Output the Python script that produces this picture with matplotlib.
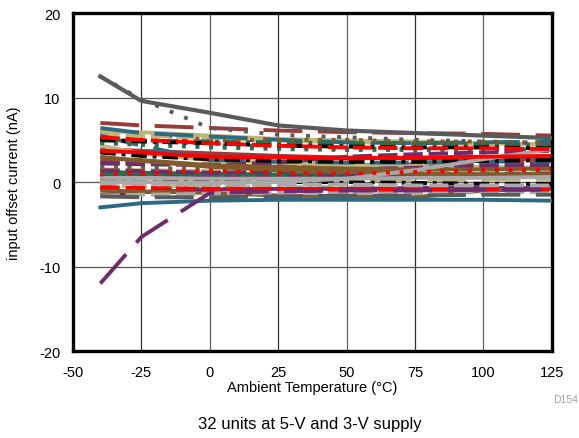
import matplotlib
matplotlib.use("Agg")
import matplotlib.pyplot as plt

plt.rcParams['font.family'] = ['Liberation Sans', 'DejaVu Sans']
plt.rcParams['axes.unicode_minus'] = False

temps = [-40, -25, 0, 25, 50, 75, 100, 125]

# the odd units that stand out from the band
top_solid = [12.5, 9.6, 8.2, 6.7, 6.1, 5.8, 5.5, 5.2]
top_dotted = [12.5, 9.8, 6.4, 5.6, 5.3, 5.0, 4.8, 4.6]
low_dashed = [-12.0, -6.5, -1.3, -1.1, -1.0, -1.0, -0.9, -0.9]
low_solid = [-3.0, -2.5, -2.2, -2.1, -2.1, -2.1, -2.1, -2.2]

# the rest, grouped by colour
maroon_units = [[7.0, 6.7, 6.4, 6.1, 5.9, 5.8, 5.7, 5.5],
                [3.9, 3.7, 3.4, 3.1, 2.9, 2.8, 2.7, 2.7],
                [5.8, 5.6, 5.3, 5.0, 4.9, 4.8, 4.7, 4.6],
                [2.4, 2.3, 2.1, 2.0, 2.0, 2.1, 2.2, 2.3]]
red_units = [[5.3, 5.0, 4.6, 4.3, 4.1, 4.0, 4.0, 3.9],
             [3.7, 3.5, 3.0, 2.9, 2.8, 2.9, 3.0, 3.1],
             [-0.6, -0.7, -0.8, -0.8, -0.9, -0.9, -0.9, -0.9],
             [0.9, 1.0, 1.3, 1.1, 1.0, 1.2, 1.4, 1.5]]
khaki_units = [[6.0, 5.9, 5.5, 5.1, 4.9, 4.8, 4.6, 4.4],
               [4.3, 3.4, 2.6, 2.3, 2.0, 1.9, 1.8, 1.7],
               [5.6, 5.5, 5.2, 4.9, 4.7, 4.6, 4.5, 4.5],
               [1.5, 1.4, 1.3, 1.2, 1.2, 1.2, 1.3, 1.3],
               [-0.4, -0.5, -0.5, -0.6, -0.6, -0.6, -0.6, -0.6],
               [0.3, 0.3, 0.2, 0.2, 0.2, 0.2, 0.3, 0.3]]
teal_units = [[6.4, 5.8, 5.4, 5.0, 4.7, 4.6, 4.7, 4.8],
              [5.5, 4.3, 2.6, 2.4, 2.3, 2.3, 2.4, 2.5],
              [-0.8, -0.8, -0.8, -0.8, -0.8, -0.8, -0.8, -0.8],
              [4.8, 4.6, 4.4, 4.2, 4.0, 3.9, 3.9, 3.8],
              [1.8, 1.7, 1.5, 1.4, 1.3, 1.4, 1.5, 1.6]]
green_units = [[4.9, 4.9, 4.8, 4.7, 4.6, 4.6, 4.5, 4.4],
               [1.2, 1.1, 1.0, 0.9, 0.9, 0.9, 0.9, 0.9],
               [0.9, 0.9, 0.8, 0.8, 0.8, 0.8, 0.7, 0.7],
               [4.6, 4.4, 4.1, 3.9, 3.8, 3.8, 3.8, 3.9]]
purple_units = [[2.2, 2.1, 2.0, 2.3, 3.0, 3.3, 3.5, 3.7],
                [1.4, 1.3, 1.1, 1.2, 1.5, 1.7, 1.9, 2.0],
                [-1.5, -1.2, -0.9, -0.8, -0.8, -0.7, -0.7, -0.7],
                [0.6, 0.6, 0.5, 0.6, 0.7, 0.8, 0.9, 1.0]]
brown_units = [[3.0, 2.5, 1.8, 1.4, 1.2, 1.0, 0.9, 0.9],
               [2.8, 2.6, 2.0, 1.8, 1.6, 1.5, 1.5, 1.6],
               [-1.0, -1.1, -1.3, -1.6, -1.7, -1.8, -1.0, -0.8],
               [5.0, 4.9, 4.9, 5.0, 5.0, 4.8, 4.8, 4.6],
               [1.7, 1.6, 1.4, 1.3, 1.2, 1.2, 1.3, 1.3]]
black_units = [[3.5, 3.1, 2.7, 2.5, 2.4, 2.4, 2.5, 2.6],
               [0.1, 0.0, 0.0, 0.0, 0.0, -0.1, -0.2, -0.2],
               [5.0, 4.8, 4.6, 4.3, 4.2, 4.1, 4.1, 4.0]]
lgray_units = [[0.0, 0.0, -0.1, 0.0, 0.4, 1.4, 2.7, 3.9],
               [-1.6, -1.5, -1.4, -1.3, -1.3, -1.3, -1.2, -1.2],
               [0.0, -0.2, -0.3, -0.3, -0.3, -0.4, -0.4, -0.4],
               [0.5, 0.5, 0.4, 0.4, 0.4, 0.5, 0.5, 0.6]]
dgray_units = [[-1.7, -1.8, -1.8, -1.7, -1.6, -1.6, -1.5, -1.5]]

solid = '-'
longdash = (0, (10, 4))
dash = (0, (5, 1.5))
dots = (0, (1, 2.5))
dashdot = (0, (4, 1.5, 1, 1.5))

groups = [
    (maroon_units, '#9a3b39', [longdash, solid, dots, dash]),
    (khaki_units, '#bdb57a', [solid, solid, dash, dash, dashdot, longdash]),
    (teal_units, '#2c6a82', [longdash, longdash, dots, dots, dots]),
    (green_units, '#2a6e4e', [dashdot, solid, solid, dots]),
    (purple_units, '#6e2c6c', [dash, dash, solid, dashdot]),
    (brown_units, '#835a2c', [solid, solid, solid, dots, dots]),
    (black_units, '#000000', [dashdot, dashdot, dashdot]),
    (lgray_units, '#a9a9a9', [solid, dash, dash, solid]),
    (dgray_units, '#5a5a5a', [longdash]),
    (red_units, '#ff0000', [dash, solid, dash, dots]),
]

fig = plt.figure(figsize=(5.79, 4.39), dpi=100)
ax = fig.add_axes([0.126, 0.198, 0.827, 0.770])

for gx in [-25, 0, 25, 50, 75, 100]:
    ax.axvline(gx, color='#303030' if gx % 50 else '#606060', lw=0.9, zorder=1)
for gy in [-10, 0, 10]:
    ax.axhline(gy, color='#555555', lw=0.9, zorder=1)

for units, color, styles in groups:
    for vals, ls in zip(units, styles):
        ax.plot(temps, vals, color=color, linestyle=ls, lw=2.8,
                solid_capstyle='butt', dash_capstyle='butt', zorder=2)

ax.plot(temps, low_solid, color='#2c6a82', lw=2.8, zorder=3)
ax.plot(temps, low_dashed, color='#6e2c6c', lw=2.8, linestyle=longdash,
        dash_capstyle='butt', zorder=3)
ax.plot(temps, top_dotted, color='#5a5a5a', lw=2.8, linestyle=(0, (1, 3)),
        dash_capstyle='butt', zorder=3)
ax.plot(temps, top_solid, color='#5a5a5a', lw=3.0, zorder=3)

ax.set_xlim(-50, 125)
ax.set_ylim(-20, 20)
ax.set_xticks([-50, -25, 0, 25, 50, 75, 100, 125])
ax.set_yticks([-20, -10, 0, 10, 20])
ax.tick_params(length=0, labelsize=10.5)
ax.tick_params(axis='x', pad=10)
ax.tick_params(axis='y', pad=9)
for s in ax.spines.values():
    s.set_linewidth(2.4)
ax.set_xlabel('Ambient Temperature (\u00b0C)', fontsize=10.5, labelpad=1)
ax.set_ylabel('input offset current (nA)', fontsize=10.5, labelpad=13)

fig.text(0.976, 0.088, 'D154', color='#a0a0a0', fontsize=7.5, ha='center', va='center')
fig.text(0.535, 0.034, '32 units at 5-V and 3-V supply', fontsize=12, ha='center', va='center')

fig.savefig('out.png', dpi=100)
